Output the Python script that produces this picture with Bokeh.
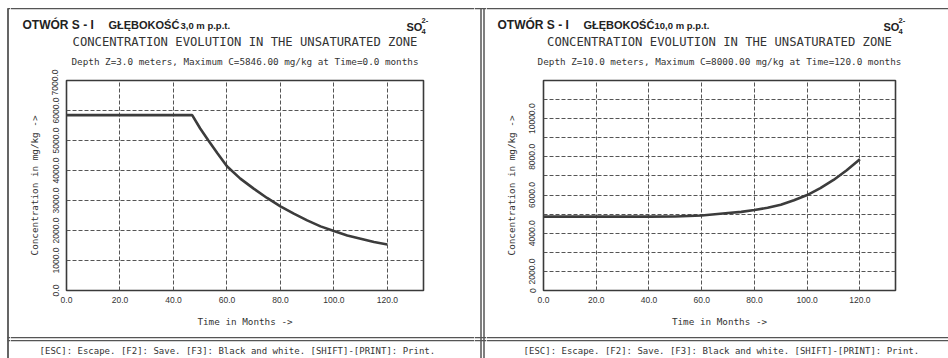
from bokeh.plotting import figure
from bokeh.models import Label, BoxAnnotation, FixedTicker, PrintfTickFormatter, Range1d
from bokeh.layouts import row, column
from bokeh.embed import file_html
from bokeh.resources import INLINE

# ---------------- data ----------------
months_z3 = [0, 47, 50, 53, 56.5, 60, 65, 70, 75, 80, 85, 90, 95, 100, 105, 110, 115, 120]
conc_z3 = [5846, 5846, 5400, 5010, 4565, 4140, 3730, 3396, 3085, 2805, 2560, 2337, 2137, 1983, 1836, 1726, 1616, 1536]

months_z10 = [0, 40, 50, 60, 70, 75, 80, 85, 90, 95, 100, 105, 110, 115, 120]
conc_z10 = [4870, 4870, 4880, 4930, 5060, 5120, 5215, 5330, 5494, 5730, 6000, 6360, 6790, 7300, 7880]

x_ticks = [0, 20, 40, 60, 80, 100, 120]
y_ticks_z3 = [0, 1000, 2000, 3000, 4000, 5000, 6000, 7000]
y_ticks_z10 = [1000, 2000, 3000, 4000, 5000, 6000, 7000, 8000, 9000, 10000, 11000, 12000]
y_labels_z10 = {1000: "0", 3000: "", 5000: "", 7000: "", 9000: "", 11000: "", 12000: ""}

header = "OTWÓR S - I"
depth_word = "GŁĘBOKOŚĆ"
depth_num = ["3,0 m p.p.t.", "10,0 m p.p.t."]
title_txt = "CONCENTRATION EVOLUTION IN THE UNSATURATED ZONE"
sub_txt = ["Depth Z=3.0 meters, Maximum C=5846.00 mg/kg at Time=0.0 months",
           "Depth Z=10.0 meters, Maximum C=8000.00 mg/kg at Time=120.0 months"]
footer = "[ESC]: Escape.  [F2]: Save.  [F3]: Black and white.  [SHIFT]-[PRINT]: Print."
xlab = "Time in Months ->"
ylab = "Concentration in mg/kg ->"

INK = "#333333"
DARK = "#222222"
GRID = "#555555"
RULE = "#555555"
X_RANGE = (0, 133.5)
HALF_W, H = 474, 358
TOP_H, BOT_H = 69, 24          # heights of the title strip and footer strip
CHART_H = H - TOP_H - BOT_H


def strip(w, h):
    """A blank figure whose data units are canvas pixels (y downwards)."""
    p = figure(width=w, height=h, x_range=Range1d(0, w), y_range=Range1d(h, 0),
               output_backend="svg", toolbar_location=None, min_border=0,
               x_axis_type=None, y_axis_type=None, frame_align=False)
    p.title.visible = False
    p.outline_line_color = None
    p.grid.visible = False
    p.background_fill_color = "white"
    p.border_fill_color = "white"
    return p


def text(p, x, y, s, size, font="Liberation Sans", bold=False, align="left", color=INK):
    p.add_layout(Label(x=x, y=y, text=s, text_font=font, text_font_size=f"{size}px",
                       text_font_style="bold" if bold else "normal",
                       text_align=align, text_baseline="middle", text_color=color))


def rect(p, x0, x1, y0, y1, color=RULE):
    p.add_layout(BoxAnnotation(left=x0, right=x1, top=y0, bottom=y1,
                               fill_color=color, fill_alpha=1, line_color=None))


def chart(months, conc, yr, yticks, left_b, right_b, width, overrides=None):
    p = figure(width=width, height=CHART_H, x_range=X_RANGE, y_range=yr,
               output_backend="svg", toolbar_location=None, frame_align=False,
               min_border_left=left_b, min_border_right=right_b,
               min_border_top=80 - TOP_H, min_border_bottom=CHART_H - (290 - TOP_H))
    p.title.visible = False
    p.background_fill_color = "white"
    p.border_fill_color = "white"
    p.outline_line_color = "#3a3a3a"
    p.outline_line_width = 1.6

    p.xaxis.ticker = FixedTicker(ticks=x_ticks)
    p.yaxis.ticker = FixedTicker(ticks=yticks)
    p.xaxis.formatter = PrintfTickFormatter(format="%.1f")
    p.yaxis.formatter = PrintfTickFormatter(format="%.1f")
    if overrides:
        p.yaxis.major_label_overrides = overrides
    for ax in (p.xaxis[0], p.yaxis[0]):
        ax.axis_line_color = None
        ax.major_tick_line_color = None
        ax.minor_tick_line_color = None
        ax.major_label_text_font = "Liberation Sans"
        ax.major_label_text_font_size = "8.5px"
        ax.major_label_text_color = INK
        ax.axis_label_text_font = "DejaVu Sans Mono"
        ax.axis_label_text_font_size = "9.3px"
        ax.axis_label_text_font_style = "normal"
        ax.axis_label_text_color = INK
    p.yaxis.major_label_orientation = "vertical"
    p.xaxis.axis_label = xlab
    p.yaxis.axis_label = ylab
    p.xaxis.major_label_standoff = 0
    p.xaxis.axis_label_standoff = 10
    p.yaxis.major_label_standoff = 2
    p.yaxis.axis_label_standoff = 10

    for g in (p.xgrid[0], p.ygrid[0]):
        g.grid_line_color = GRID
        g.grid_line_dash = "4 2"
        g.grid_line_width = 1

    p.line(months, conc, line_width=2.6, line_color="#3c3c3c")
    return p


def half(idx, months, conc, yr, yticks, frame_left, frame_right, strip_w, vlines,
         title_x, depth_x, num_x, so_x, footer_cx, overrides=None):
    w = HALF_W - strip_w
    # left strip carrying the vertical border rule(s)
    ls = strip(strip_w, H)
    for vx, vw in vlines:
        rect(ls, vx - vw / 2, vx + vw / 2, 8, H)
    rect(ls, 0 if idx else 7, strip_w, 7.4, 8.7)
    rect(ls, 0 if idx else 7, strip_w, 336.4, 337.7)
    rect(ls, 0 if idx else 7, strip_w, 339.4, 340.7)

    # title strip
    ts = strip(w, TOP_H)
    rect(ts, 0, w, 7.4, 8.7)
    o = strip_w
    text(ts, title_x - o, 24, header, 12, bold=True, color=DARK)
    text(ts, depth_x - o, 24, depth_word, 11, bold=True, color=DARK)
    text(ts, num_x - o, 24.5, depth_num[idx], 9.5, bold=True, color=DARK)
    text(ts, so_x - o, 26, "SO", 11, bold=True, color=DARK)
    text(ts, so_x + 15 - o, 20, "2-", 7.5, bold=True, color=DARK)
    text(ts, so_x + 15 - o, 31, "4", 7.5, bold=True, color=DARK)
    cx = (frame_left + frame_right) / 2 - o
    text(ts, cx, 41.5, title_txt, 12.2, font="DejaVu Sans Mono", align="center")
    text(ts, cx, 61, sub_txt[idx], 9.3, font="DejaVu Sans Mono", align="center")

    # chart
    ch = chart(months, conc, yr, yticks, frame_left - strip_w, HALF_W - frame_right, w,
               overrides)

    # footer strip
    fs = strip(w, BOT_H)
    top0 = H - BOT_H
    rect(fs, 0, w, 336.4 - top0, 337.7 - top0)
    rect(fs, 0, w, 339.4 - top0, 340.7 - top0)
    text(fs, footer_cx - o, 350 - top0, footer, 9, font="DejaVu Sans Mono", align="center")

    return row(ls, column(ts, ch, fs, spacing=0), spacing=0)


left_half = half(0, months_z3, conc_z3, (0, 7000), y_ticks_z3, 66, 423, 10,
                 [(7.5, 1.8)], 22, 108, 180, 406, 245)
right_half = half(1, months_z10, conc_z10, (1000, 12000), y_ticks_z10, 69, 421, 12,
                  [(6.5, 1.5), (9.5, 1.5)], 23, 109, 180, 409, 729 - HALF_W,
                  overrides=y_labels_z10)

layout = row(left_half, right_half, spacing=0)
open("out.html", "w").write(file_html(layout, INLINE))
